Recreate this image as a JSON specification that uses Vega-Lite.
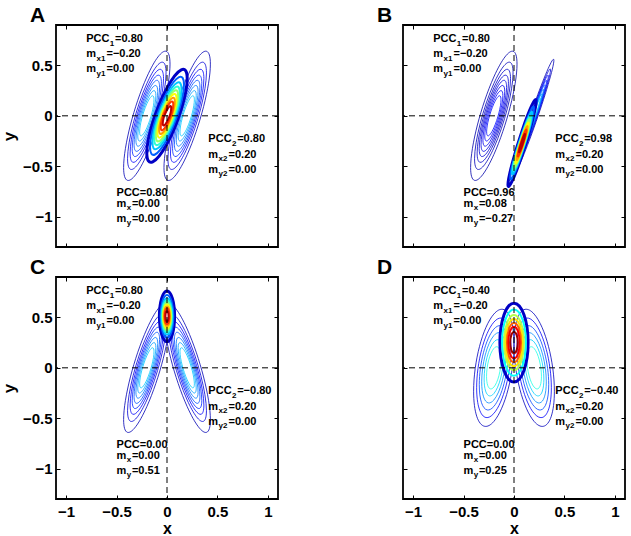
{
"$schema":"https://vega.github.io/schema/vega-lite/v6.json",
"padding":{"left":-1,"top":3,"right":0,"bottom":0},
"background":"white",
"datasets":{
"contours":[
{"p":"A","s":"S1","k":"c","mx":-0.2,"my":0,"r":1,"lv":0.04},
{"p":"A","s":"S1","k":"c","mx":-0.2,"my":0,"r":0.83,"lv":0.08},
{"p":"A","s":"S1","k":"c","mx":-0.2,"my":0,"r":0.72,"lv":0.12},
{"p":"A","s":"S1","k":"c","mx":-0.2,"my":0,"r":0.63,"lv":0.16},
{"p":"A","s":"S1","k":"c","mx":-0.2,"my":0,"r":0.55,"lv":0.2},
{"p":"A","s":"S1","k":"c","mx":-0.2,"my":0,"r":0.47,"lv":0.24},
{"p":"A","s":"S1","k":"c","mx":-0.2,"my":0,"r":0.39,"lv":0.28},
{"p":"A","s":"S1","k":"c","mx":-0.2,"my":0,"r":0.31,"lv":0.32},
{"p":"A","s":"S1","k":"c","mx":0.2,"my":0,"r":1,"lv":0.04},
{"p":"A","s":"S1","k":"c","mx":0.2,"my":0,"r":0.83,"lv":0.08},
{"p":"A","s":"S1","k":"c","mx":0.2,"my":0,"r":0.72,"lv":0.12},
{"p":"A","s":"S1","k":"c","mx":0.2,"my":0,"r":0.63,"lv":0.16},
{"p":"A","s":"S1","k":"c","mx":0.2,"my":0,"r":0.55,"lv":0.2},
{"p":"A","s":"S1","k":"c","mx":0.2,"my":0,"r":0.47,"lv":0.24},
{"p":"A","s":"S1","k":"c","mx":0.2,"my":0,"r":0.39,"lv":0.28},
{"p":"A","s":"S1","k":"c","mx":0.2,"my":0,"r":0.31,"lv":0.32},
{"p":"A","s":"S4","k":"o","mx":0,"my":0,"r":1,"lv":0.06},
{"p":"A","s":"S4","k":"i","mx":0,"my":0,"r":0.84,"lv":0.22},
{"p":"A","s":"S4","k":"i","mx":0,"my":0,"r":0.72,"lv":0.32},
{"p":"A","s":"S4","k":"i","mx":0,"my":0,"r":0.63,"lv":0.42},
{"p":"A","s":"S4","k":"i","mx":0,"my":0,"r":0.55,"lv":0.52},
{"p":"A","s":"S4","k":"i","mx":0,"my":0,"r":0.47,"lv":0.62},
{"p":"A","s":"S4","k":"i","mx":0,"my":0,"r":0.39,"lv":0.72},
{"p":"A","s":"S4","k":"i","mx":0,"my":0,"r":0.31,"lv":0.82},
{"p":"A","s":"S4","k":"i","mx":0,"my":0,"r":0.21,"lv":0.94},
{"p":"B","s":"S1","k":"c","mx":-0.2,"my":0,"r":1,"lv":0.03},
{"p":"B","s":"S1","k":"c","mx":-0.2,"my":0,"r":0.83,"lv":0.045},
{"p":"B","s":"S1","k":"c","mx":-0.2,"my":0,"r":0.72,"lv":0.06},
{"p":"B","s":"S1","k":"c","mx":-0.2,"my":0,"r":0.63,"lv":0.075},
{"p":"B","s":"S1","k":"c","mx":-0.2,"my":0,"r":0.55,"lv":0.09},
{"p":"B","s":"S1","k":"c","mx":-0.2,"my":0,"r":0.47,"lv":0.105},
{"p":"B","s":"S1","k":"c","mx":-0.2,"my":0,"r":0.39,"lv":0.12},
{"p":"B","s":"S1","k":"c","mx":-0.2,"my":0,"r":0.31,"lv":0.135},
{"p":"B","s":"S3","k":"c","mx":0.2,"my":0,"r":1,"lv":0.04},
{"p":"B","s":"S3","k":"c","mx":0.2,"my":0,"r":0.83,"lv":0.08},
{"p":"B","s":"S3","k":"c","mx":0.2,"my":0,"r":0.72,"lv":0.12},
{"p":"B","s":"S3","k":"c","mx":0.2,"my":0,"r":0.63,"lv":0.16},
{"p":"B","s":"S3","k":"c","mx":0.2,"my":0,"r":0.55,"lv":0.2},
{"p":"B","s":"S3","k":"c","mx":0.2,"my":0,"r":0.47,"lv":0.24},
{"p":"B","s":"S3","k":"c","mx":0.2,"my":0,"r":0.39,"lv":0.28},
{"p":"B","s":"S3","k":"c","mx":0.2,"my":0,"r":0.31,"lv":0.32},
{"p":"B","s":"S5","k":"o","mx":0.08,"my":-0.27,"r":1,"lv":0.06},
{"p":"B","s":"S5","k":"i","mx":0.08,"my":-0.27,"r":0.84,"lv":0.22},
{"p":"B","s":"S5","k":"i","mx":0.08,"my":-0.27,"r":0.72,"lv":0.32},
{"p":"B","s":"S5","k":"i","mx":0.08,"my":-0.27,"r":0.63,"lv":0.42},
{"p":"B","s":"S5","k":"i","mx":0.08,"my":-0.27,"r":0.55,"lv":0.52},
{"p":"B","s":"S5","k":"i","mx":0.08,"my":-0.27,"r":0.47,"lv":0.62},
{"p":"B","s":"S5","k":"i","mx":0.08,"my":-0.27,"r":0.39,"lv":0.72},
{"p":"B","s":"S5","k":"i","mx":0.08,"my":-0.27,"r":0.31,"lv":0.82},
{"p":"B","s":"S5","k":"i","mx":0.08,"my":-0.27,"r":0.21,"lv":0.94},
{"p":"C","s":"S1","k":"c","mx":-0.2,"my":0,"r":1,"lv":0.04},
{"p":"C","s":"S1","k":"c","mx":-0.2,"my":0,"r":0.83,"lv":0.08},
{"p":"C","s":"S1","k":"c","mx":-0.2,"my":0,"r":0.72,"lv":0.12},
{"p":"C","s":"S1","k":"c","mx":-0.2,"my":0,"r":0.63,"lv":0.16},
{"p":"C","s":"S1","k":"c","mx":-0.2,"my":0,"r":0.55,"lv":0.2},
{"p":"C","s":"S1","k":"c","mx":-0.2,"my":0,"r":0.47,"lv":0.24},
{"p":"C","s":"S1","k":"c","mx":-0.2,"my":0,"r":0.39,"lv":0.28},
{"p":"C","s":"S1","k":"c","mx":-0.2,"my":0,"r":0.31,"lv":0.32},
{"p":"C","s":"S2","k":"c","mx":0.2,"my":0,"r":1,"lv":0.04},
{"p":"C","s":"S2","k":"c","mx":0.2,"my":0,"r":0.83,"lv":0.08},
{"p":"C","s":"S2","k":"c","mx":0.2,"my":0,"r":0.72,"lv":0.12},
{"p":"C","s":"S2","k":"c","mx":0.2,"my":0,"r":0.63,"lv":0.16},
{"p":"C","s":"S2","k":"c","mx":0.2,"my":0,"r":0.55,"lv":0.2},
{"p":"C","s":"S2","k":"c","mx":0.2,"my":0,"r":0.47,"lv":0.24},
{"p":"C","s":"S2","k":"c","mx":0.2,"my":0,"r":0.39,"lv":0.28},
{"p":"C","s":"S2","k":"c","mx":0.2,"my":0,"r":0.31,"lv":0.32},
{"p":"C","s":"S6","k":"o","mx":0,"my":0.51,"r":1,"lv":0.06},
{"p":"C","s":"S6","k":"i","mx":0,"my":0.51,"r":0.84,"lv":0.22},
{"p":"C","s":"S6","k":"i","mx":0,"my":0.51,"r":0.72,"lv":0.32},
{"p":"C","s":"S6","k":"i","mx":0,"my":0.51,"r":0.63,"lv":0.42},
{"p":"C","s":"S6","k":"i","mx":0,"my":0.51,"r":0.55,"lv":0.52},
{"p":"C","s":"S6","k":"i","mx":0,"my":0.51,"r":0.47,"lv":0.62},
{"p":"C","s":"S6","k":"i","mx":0,"my":0.51,"r":0.39,"lv":0.72},
{"p":"C","s":"S6","k":"i","mx":0,"my":0.51,"r":0.31,"lv":0.82},
{"p":"C","s":"S6","k":"i","mx":0,"my":0.51,"r":0.21,"lv":0.94},
{"p":"D","s":"S7","k":"c","mx":-0.2,"my":0,"r":1,"lv":0.05},
{"p":"D","s":"S7","k":"c","mx":-0.2,"my":0,"r":0.85,"lv":0.12},
{"p":"D","s":"S7","k":"c","mx":-0.2,"my":0,"r":0.72,"lv":0.19},
{"p":"D","s":"S7","k":"c","mx":-0.2,"my":0,"r":0.6,"lv":0.26},
{"p":"D","s":"S7","k":"c","mx":-0.2,"my":0,"r":0.48,"lv":0.33},
{"p":"D","s":"S7","k":"c","mx":-0.2,"my":0,"r":0.36,"lv":0.4},
{"p":"D","s":"S8","k":"c","mx":0.2,"my":0,"r":1,"lv":0.05},
{"p":"D","s":"S8","k":"c","mx":0.2,"my":0,"r":0.85,"lv":0.12},
{"p":"D","s":"S8","k":"c","mx":0.2,"my":0,"r":0.72,"lv":0.19},
{"p":"D","s":"S8","k":"c","mx":0.2,"my":0,"r":0.6,"lv":0.26},
{"p":"D","s":"S8","k":"c","mx":0.2,"my":0,"r":0.48,"lv":0.33},
{"p":"D","s":"S8","k":"c","mx":0.2,"my":0,"r":0.36,"lv":0.4},
{"p":"D","s":"S9","k":"o","mx":0,"my":0.25,"r":1,"lv":0.06},
{"p":"D","s":"S9","k":"i","mx":0,"my":0.25,"r":0.84,"lv":0.38},
{"p":"D","s":"S9","k":"i","mx":0,"my":0.25,"r":0.7,"lv":0.55},
{"p":"D","s":"S9","k":"i","mx":0,"my":0.25,"r":0.6,"lv":0.65},
{"p":"D","s":"S9","k":"i","mx":0,"my":0.25,"r":0.5,"lv":0.78},
{"p":"D","s":"S9","k":"i","mx":0,"my":0.25,"r":0.4,"lv":0.88},
{"p":"D","s":"S9","k":"i","mx":0,"my":0.25,"r":0.27,"lv":0.97}
],
"labels":[
{"p":"A","x":-0.8,"y":0.76,"pre":"PCC","sub":"1","post":"=0.80"},
{"p":"A","x":-0.8,"y":0.61,"pre":"m","sub":"x1","post":"=−0.20"},
{"p":"A","x":-0.8,"y":0.46,"pre":"m","sub":"y1","post":"=0.00"},
{"p":"A","x":0.41,"y":-0.23,"pre":"PCC","sub":"2","post":"=0.80"},
{"p":"A","x":0.41,"y":-0.385,"pre":"m","sub":"x2","post":"=0.20"},
{"p":"A","x":0.41,"y":-0.535,"pre":"m","sub":"y2","post":"=0.00"},
{"p":"A","x":-0.5,"y":-0.76,"pre":"PCC=0.80","sub":"","post":""},
{"p":"A","x":-0.5,"y":-0.87,"pre":"m","sub":"x","post":"=0.00"},
{"p":"A","x":-0.5,"y":-1.02,"pre":"m","sub":"y","post":"=0.00"},
{"p":"B","x":-0.8,"y":0.76,"pre":"PCC","sub":"1","post":"=0.80"},
{"p":"B","x":-0.8,"y":0.61,"pre":"m","sub":"x1","post":"=−0.20"},
{"p":"B","x":-0.8,"y":0.46,"pre":"m","sub":"y1","post":"=0.00"},
{"p":"B","x":0.41,"y":-0.23,"pre":"PCC","sub":"2","post":"=0.98"},
{"p":"B","x":0.41,"y":-0.385,"pre":"m","sub":"x2","post":"=0.20"},
{"p":"B","x":0.41,"y":-0.535,"pre":"m","sub":"y2","post":"=0.00"},
{"p":"B","x":-0.5,"y":-0.76,"pre":"PCC=0.96","sub":"","post":""},
{"p":"B","x":-0.5,"y":-0.87,"pre":"m","sub":"x","post":"=0.08"},
{"p":"B","x":-0.5,"y":-1.02,"pre":"m","sub":"y","post":"=−0.27"},
{"p":"C","x":-0.8,"y":0.76,"pre":"PCC","sub":"1","post":"=0.80"},
{"p":"C","x":-0.8,"y":0.61,"pre":"m","sub":"x1","post":"=−0.20"},
{"p":"C","x":-0.8,"y":0.46,"pre":"m","sub":"y1","post":"=0.00"},
{"p":"C","x":0.41,"y":-0.23,"pre":"PCC","sub":"2","post":"=−0.80"},
{"p":"C","x":0.41,"y":-0.385,"pre":"m","sub":"x2","post":"=0.20"},
{"p":"C","x":0.41,"y":-0.535,"pre":"m","sub":"y2","post":"=0.00"},
{"p":"C","x":-0.5,"y":-0.76,"pre":"PCC=0.00","sub":"","post":""},
{"p":"C","x":-0.5,"y":-0.87,"pre":"m","sub":"x","post":"=0.00"},
{"p":"C","x":-0.5,"y":-1.02,"pre":"m","sub":"y","post":"=0.51"},
{"p":"D","x":-0.8,"y":0.76,"pre":"PCC","sub":"1","post":"=0.40"},
{"p":"D","x":-0.8,"y":0.61,"pre":"m","sub":"x1","post":"=−0.20"},
{"p":"D","x":-0.8,"y":0.46,"pre":"m","sub":"y1","post":"=0.00"},
{"p":"D","x":0.41,"y":-0.23,"pre":"PCC","sub":"2","post":"=−0.40"},
{"p":"D","x":0.41,"y":-0.385,"pre":"m","sub":"x2","post":"=0.20"},
{"p":"D","x":0.41,"y":-0.535,"pre":"m","sub":"y2","post":"=0.00"},
{"p":"D","x":-0.5,"y":-0.76,"pre":"PCC=0.00","sub":"","post":""},
{"p":"D","x":-0.5,"y":-0.87,"pre":"m","sub":"x","post":"=0.00"},
{"p":"D","x":-0.5,"y":-1.02,"pre":"m","sub":"y","post":"=0.25"}
],
"zero":[{"v":0}]
},
"columns":2,
"spacing":{"row":30,"column":125},
"bounds":"flush",
"concat":[
{"width":222,"height":222,"title":"A",
"layer":[
{"data":{"name":"contours"},"transform":[{"filter":"datum.p=='A' && datum.k=='c'"}],"mark":{"type":"point","filled":false,"opacity":1,"strokeWidth":0.8},
"encoding":{"x":{"field":"mx","type":"quantitative","scale":{"domain":[-1.1,1.1],"nice":false,"zero":false},"axis":null},"y":{"field":"my","type":"quantitative","scale":{"domain":[-1.3,0.9],"nice":false,"zero":false},"axis":null},
"shape":{"field":"s","type":"nominal","scale":{"domain":["S1","S2","S3","S4","S5","S6","S7","S8","S9"],"range":["M23.2,-51.7C23.2,-73.1,12.8,-67.4,0,-38.8C-12.8,-10.2,-23.2,30.3,-23.2,51.7C-23.2,73.1,-12.8,67.4,0,38.8C12.8,10.2,23.2,-30.3,23.2,-51.7Z","M-23.2,-51.7C-23.2,-73.1,-12.8,-67.4,0,-38.8C12.8,-10.2,23.2,30.3,23.2,51.7C23.2,73.1,12.8,67.4,0,38.8C-12.8,10.2,-23.2,-30.3,-23.2,-51.7Z","M19.7,-55.4C19.7,-61.6,10.9,-41.9,0,-11.3C-10.9,19.3,-19.7,49.2,-19.7,55.4C-19.7,61.6,-10.9,41.9,0,11.3C10.9,-19.3,19.7,-49.2,19.7,-55.4Z","M20.2,-37.2C20.2,-52.6,11.2,-48.4,0,-27.9C-11.2,-7.4,-20.2,21.8,-20.2,37.2C-20.2,52.6,-11.2,48.4,0,27.9C11.2,7.4,20.2,-21.8,20.2,-37.2Z","M14.1,-41.7C14.1,-48.4,7.8,-35.2,0,-12.2C-7.8,10.8,-14.1,35,-14.1,41.7C-14.1,48.4,-7.8,35.2,0,12.2C7.8,-10.8,14.1,-35,14.1,-41.7Z","M7.6,0C7.6,-13.9,4.2,-25.3,0,-25.3C-4.2,-25.3,-7.6,-13.9,-7.6,0C-7.6,13.9,-4.2,25.3,0,25.3C4.2,25.3,7.6,13.9,7.6,0Z","M20.2,-23.4C20.2,-53.1,11.2,-66.6,0,-53.7C-11.2,-40.8,-20.2,-6.3,-20.2,23.4C-20.2,53.1,-11.2,66.6,0,53.7C11.2,40.8,20.2,6.3,20.2,-23.4Z","M-20.2,-23.4C-20.2,-53.1,-11.2,-66.6,0,-53.7C11.2,-40.8,20.2,-6.3,20.2,23.4C20.2,53.1,11.2,66.6,0,53.7C-11.2,40.8,-20.2,6.3,-20.2,-23.4Z","M14.1,0C14.1,-21.8,7.8,-39.4,0,-39.4C-7.8,-39.4,-14.1,-21.8,-14.1,0C-14.1,21.8,-7.8,39.4,0,39.4C7.8,39.4,14.1,21.8,14.1,0Z"]},"legend":null},
"size":{"field":"r","type":"quantitative","scale":{"type":"pow","exponent":2,"domain":[0,1],"range":[0,4]},"legend":null},
"color":{"field":"lv","type":"quantitative","scale":{"domain":[0,0.125,0.375,0.625,0.875,1],"range":["#00008f","#0000ff","#00ffff","#ffff00","#ff0000","#800000"],"interpolate":"rgb"},"legend":null}}},
{"data":{"name":"contours"},"transform":[{"filter":"datum.p=='A' && datum.k=='o'"}],"mark":{"type":"point","filled":false,"opacity":1,"strokeWidth":3},
"encoding":{"x":{"field":"mx","type":"quantitative","scale":{"domain":[-1.1,1.1],"nice":false,"zero":false},"axis":null},"y":{"field":"my","type":"quantitative","scale":{"domain":[-1.3,0.9],"nice":false,"zero":false},"axis":null},
"shape":{"field":"s","type":"nominal","scale":{"domain":["S1","S2","S3","S4","S5","S6","S7","S8","S9"],"range":["M23.2,-51.7C23.2,-73.1,12.8,-67.4,0,-38.8C-12.8,-10.2,-23.2,30.3,-23.2,51.7C-23.2,73.1,-12.8,67.4,0,38.8C12.8,10.2,23.2,-30.3,23.2,-51.7Z","M-23.2,-51.7C-23.2,-73.1,-12.8,-67.4,0,-38.8C12.8,-10.2,23.2,30.3,23.2,51.7C23.2,73.1,12.8,67.4,0,38.8C-12.8,10.2,-23.2,-30.3,-23.2,-51.7Z","M19.7,-55.4C19.7,-61.6,10.9,-41.9,0,-11.3C-10.9,19.3,-19.7,49.2,-19.7,55.4C-19.7,61.6,-10.9,41.9,0,11.3C10.9,-19.3,19.7,-49.2,19.7,-55.4Z","M20.2,-37.2C20.2,-52.6,11.2,-48.4,0,-27.9C-11.2,-7.4,-20.2,21.8,-20.2,37.2C-20.2,52.6,-11.2,48.4,0,27.9C11.2,7.4,20.2,-21.8,20.2,-37.2Z","M14.1,-41.7C14.1,-48.4,7.8,-35.2,0,-12.2C-7.8,10.8,-14.1,35,-14.1,41.7C-14.1,48.4,-7.8,35.2,0,12.2C7.8,-10.8,14.1,-35,14.1,-41.7Z","M7.6,0C7.6,-13.9,4.2,-25.3,0,-25.3C-4.2,-25.3,-7.6,-13.9,-7.6,0C-7.6,13.9,-4.2,25.3,0,25.3C4.2,25.3,7.6,13.9,7.6,0Z","M20.2,-23.4C20.2,-53.1,11.2,-66.6,0,-53.7C-11.2,-40.8,-20.2,-6.3,-20.2,23.4C-20.2,53.1,-11.2,66.6,0,53.7C11.2,40.8,20.2,6.3,20.2,-23.4Z","M-20.2,-23.4C-20.2,-53.1,-11.2,-66.6,0,-53.7C11.2,-40.8,20.2,-6.3,20.2,23.4C20.2,53.1,11.2,66.6,0,53.7C-11.2,40.8,-20.2,6.3,-20.2,-23.4Z","M14.1,0C14.1,-21.8,7.8,-39.4,0,-39.4C-7.8,-39.4,-14.1,-21.8,-14.1,0C-14.1,21.8,-7.8,39.4,0,39.4C7.8,39.4,14.1,21.8,14.1,0Z"]},"legend":null},
"size":{"field":"r","type":"quantitative","scale":{"type":"pow","exponent":2,"domain":[0,1],"range":[0,4]},"legend":null},
"color":{"field":"lv","type":"quantitative","scale":{"domain":[0,0.125,0.375,0.625,0.875,1],"range":["#00008f","#0000ff","#00ffff","#ffff00","#ff0000","#800000"],"interpolate":"rgb"},"legend":null}}},
{"data":{"name":"contours"},"transform":[{"filter":"datum.p=='A' && datum.k=='i'"}],"mark":{"type":"point","filled":false,"opacity":1,"strokeWidth":2},
"encoding":{"x":{"field":"mx","type":"quantitative","scale":{"domain":[-1.1,1.1],"nice":false,"zero":false},"axis":null},"y":{"field":"my","type":"quantitative","scale":{"domain":[-1.3,0.9],"nice":false,"zero":false},"axis":null},
"shape":{"field":"s","type":"nominal","scale":{"domain":["S1","S2","S3","S4","S5","S6","S7","S8","S9"],"range":["M23.2,-51.7C23.2,-73.1,12.8,-67.4,0,-38.8C-12.8,-10.2,-23.2,30.3,-23.2,51.7C-23.2,73.1,-12.8,67.4,0,38.8C12.8,10.2,23.2,-30.3,23.2,-51.7Z","M-23.2,-51.7C-23.2,-73.1,-12.8,-67.4,0,-38.8C12.8,-10.2,23.2,30.3,23.2,51.7C23.2,73.1,12.8,67.4,0,38.8C-12.8,10.2,-23.2,-30.3,-23.2,-51.7Z","M19.7,-55.4C19.7,-61.6,10.9,-41.9,0,-11.3C-10.9,19.3,-19.7,49.2,-19.7,55.4C-19.7,61.6,-10.9,41.9,0,11.3C10.9,-19.3,19.7,-49.2,19.7,-55.4Z","M20.2,-37.2C20.2,-52.6,11.2,-48.4,0,-27.9C-11.2,-7.4,-20.2,21.8,-20.2,37.2C-20.2,52.6,-11.2,48.4,0,27.9C11.2,7.4,20.2,-21.8,20.2,-37.2Z","M14.1,-41.7C14.1,-48.4,7.8,-35.2,0,-12.2C-7.8,10.8,-14.1,35,-14.1,41.7C-14.1,48.4,-7.8,35.2,0,12.2C7.8,-10.8,14.1,-35,14.1,-41.7Z","M7.6,0C7.6,-13.9,4.2,-25.3,0,-25.3C-4.2,-25.3,-7.6,-13.9,-7.6,0C-7.6,13.9,-4.2,25.3,0,25.3C4.2,25.3,7.6,13.9,7.6,0Z","M20.2,-23.4C20.2,-53.1,11.2,-66.6,0,-53.7C-11.2,-40.8,-20.2,-6.3,-20.2,23.4C-20.2,53.1,-11.2,66.6,0,53.7C11.2,40.8,20.2,6.3,20.2,-23.4Z","M-20.2,-23.4C-20.2,-53.1,-11.2,-66.6,0,-53.7C11.2,-40.8,20.2,-6.3,20.2,23.4C20.2,53.1,11.2,66.6,0,53.7C-11.2,40.8,-20.2,6.3,-20.2,-23.4Z","M14.1,0C14.1,-21.8,7.8,-39.4,0,-39.4C-7.8,-39.4,-14.1,-21.8,-14.1,0C-14.1,21.8,-7.8,39.4,0,39.4C7.8,39.4,14.1,21.8,14.1,0Z"]},"legend":null},
"size":{"field":"r","type":"quantitative","scale":{"type":"pow","exponent":2,"domain":[0,1],"range":[0,4]},"legend":null},
"color":{"field":"lv","type":"quantitative","scale":{"domain":[0,0.125,0.375,0.625,0.875,1],"range":["#00008f","#0000ff","#00ffff","#ffff00","#ff0000","#800000"],"interpolate":"rgb"},"legend":null}}},
{"data":{"name":"zero"},"mark":{"type":"rule","color":"black","strokeWidth":1,"strokeDash":[6,4]},"encoding":{"x":{"field":"v","type":"quantitative","scale":{"domain":[-1.1,1.1],"nice":false,"zero":false},"axis":{"orient":"bottom","values":[-1,-0.5,0,0.5,1],"labels":false,"title":null}}}},
{"data":{"name":"zero"},"mark":{"type":"rule","color":"black","strokeWidth":1,"strokeDash":[6,4]},"encoding":{"y":{"field":"v","type":"quantitative","scale":{"domain":[-1.3,0.9],"nice":false,"zero":false},"axis":{"orient":"left","values":[-1,-0.5,0,0.5],"format":"~g","title":"y","labelPadding":8,"titlePadding":4}}}},
{"data":{"name":"labels"},"transform":[{"filter":"datum.p=='A'"}],"mark":{"type":"text","align":"left","baseline":"middle","fontSize":11,"fontWeight":"bold","font":"Liberation Sans","color":"black"},"encoding":{"x":{"field":"x","type":"quantitative","scale":{"domain":[-1.1,1.1],"nice":false,"zero":false},"axis":{"orient":"top","values":[-1,-0.5,0,0.5,1],"labels":false,"title":null}},"y":{"field":"y","type":"quantitative","scale":{"domain":[-1.3,0.9],"nice":false,"zero":false},"axis":{"orient":"right","values":[-1,-0.5,0,0.5],"labels":false,"title":null}},"text":{"field":"pre","type":"nominal"}}},
{"data":{"name":"labels"},"transform":[{"filter":"datum.p=='A' && datum.pre=='PCC'"}],"mark":{"type":"text","align":"left","baseline":"middle","fontSize":8,"fontWeight":"bold","font":"Liberation Sans","color":"black","dx":23.6,"dy":4.5},"encoding":{"x":{"field":"x","type":"quantitative","scale":{"domain":[-1.1,1.1],"nice":false,"zero":false},"axis":null},"y":{"field":"y","type":"quantitative","scale":{"domain":[-1.3,0.9],"nice":false,"zero":false},"axis":null},"text":{"field":"sub","type":"nominal"}}},
{"data":{"name":"labels"},"transform":[{"filter":"datum.p=='A' && datum.pre=='PCC'"}],"mark":{"type":"text","align":"left","baseline":"middle","fontSize":11,"fontWeight":"bold","font":"Liberation Sans","color":"black","dx":28.8},"encoding":{"x":{"field":"x","type":"quantitative","scale":{"domain":[-1.1,1.1],"nice":false,"zero":false},"axis":null},"y":{"field":"y","type":"quantitative","scale":{"domain":[-1.3,0.9],"nice":false,"zero":false},"axis":null},"text":{"field":"post","type":"nominal"}}},
{"data":{"name":"labels"},"transform":[{"filter":"datum.p=='A' && datum.pre=='m'"}],"mark":{"type":"text","align":"left","baseline":"middle","fontSize":8,"fontWeight":"bold","font":"Liberation Sans","color":"black","dx":10.2,"dy":4.5},"encoding":{"x":{"field":"x","type":"quantitative","scale":{"domain":[-1.1,1.1],"nice":false,"zero":false},"axis":null},"y":{"field":"y","type":"quantitative","scale":{"domain":[-1.3,0.9],"nice":false,"zero":false},"axis":null},"text":{"field":"sub","type":"nominal"}}},
{"data":{"name":"labels"},"transform":[{"filter":"datum.p=='A' && datum.pre=='m' && length(datum.sub)==2"}],"mark":{"type":"text","align":"left","baseline":"middle","fontSize":11,"fontWeight":"bold","font":"Liberation Sans","color":"black","dx":20.2},"encoding":{"x":{"field":"x","type":"quantitative","scale":{"domain":[-1.1,1.1],"nice":false,"zero":false},"axis":null},"y":{"field":"y","type":"quantitative","scale":{"domain":[-1.3,0.9],"nice":false,"zero":false},"axis":null},"text":{"field":"post","type":"nominal"}}},
{"data":{"name":"labels"},"transform":[{"filter":"datum.p=='A' && datum.pre=='m' && length(datum.sub)==1"}],"mark":{"type":"text","align":"left","baseline":"middle","fontSize":11,"fontWeight":"bold","font":"Liberation Sans","color":"black","dx":15.4},"encoding":{"x":{"field":"x","type":"quantitative","scale":{"domain":[-1.1,1.1],"nice":false,"zero":false},"axis":null},"y":{"field":"y","type":"quantitative","scale":{"domain":[-1.3,0.9],"nice":false,"zero":false},"axis":null},"text":{"field":"post","type":"nominal"}}}
],
"resolve":{"axis":{"x":"independent","y":"independent"}}},
{"width":222,"height":222,"title":"B",
"layer":[
{"data":{"name":"contours"},"transform":[{"filter":"datum.p=='B' && datum.k=='c'"}],"mark":{"type":"point","filled":false,"opacity":1,"strokeWidth":0.8},
"encoding":{"x":{"field":"mx","type":"quantitative","scale":{"domain":[-1.1,1.1],"nice":false,"zero":false},"axis":null},"y":{"field":"my","type":"quantitative","scale":{"domain":[-1.3,0.9],"nice":false,"zero":false},"axis":null},
"shape":{"field":"s","type":"nominal","scale":{"domain":["S1","S2","S3","S4","S5","S6","S7","S8","S9"],"range":["M23.2,-51.7C23.2,-73.1,12.8,-67.4,0,-38.8C-12.8,-10.2,-23.2,30.3,-23.2,51.7C-23.2,73.1,-12.8,67.4,0,38.8C12.8,10.2,23.2,-30.3,23.2,-51.7Z","M-23.2,-51.7C-23.2,-73.1,-12.8,-67.4,0,-38.8C12.8,-10.2,23.2,30.3,23.2,51.7C23.2,73.1,12.8,67.4,0,38.8C-12.8,10.2,-23.2,-30.3,-23.2,-51.7Z","M19.7,-55.4C19.7,-61.6,10.9,-41.9,0,-11.3C-10.9,19.3,-19.7,49.2,-19.7,55.4C-19.7,61.6,-10.9,41.9,0,11.3C10.9,-19.3,19.7,-49.2,19.7,-55.4Z","M20.2,-37.2C20.2,-52.6,11.2,-48.4,0,-27.9C-11.2,-7.4,-20.2,21.8,-20.2,37.2C-20.2,52.6,-11.2,48.4,0,27.9C11.2,7.4,20.2,-21.8,20.2,-37.2Z","M14.1,-41.7C14.1,-48.4,7.8,-35.2,0,-12.2C-7.8,10.8,-14.1,35,-14.1,41.7C-14.1,48.4,-7.8,35.2,0,12.2C7.8,-10.8,14.1,-35,14.1,-41.7Z","M7.6,0C7.6,-13.9,4.2,-25.3,0,-25.3C-4.2,-25.3,-7.6,-13.9,-7.6,0C-7.6,13.9,-4.2,25.3,0,25.3C4.2,25.3,7.6,13.9,7.6,0Z","M20.2,-23.4C20.2,-53.1,11.2,-66.6,0,-53.7C-11.2,-40.8,-20.2,-6.3,-20.2,23.4C-20.2,53.1,-11.2,66.6,0,53.7C11.2,40.8,20.2,6.3,20.2,-23.4Z","M-20.2,-23.4C-20.2,-53.1,-11.2,-66.6,0,-53.7C11.2,-40.8,20.2,-6.3,20.2,23.4C20.2,53.1,11.2,66.6,0,53.7C-11.2,40.8,-20.2,6.3,-20.2,-23.4Z","M14.1,0C14.1,-21.8,7.8,-39.4,0,-39.4C-7.8,-39.4,-14.1,-21.8,-14.1,0C-14.1,21.8,-7.8,39.4,0,39.4C7.8,39.4,14.1,21.8,14.1,0Z"]},"legend":null},
"size":{"field":"r","type":"quantitative","scale":{"type":"pow","exponent":2,"domain":[0,1],"range":[0,4]},"legend":null},
"color":{"field":"lv","type":"quantitative","scale":{"domain":[0,0.125,0.375,0.625,0.875,1],"range":["#00008f","#0000ff","#00ffff","#ffff00","#ff0000","#800000"],"interpolate":"rgb"},"legend":null}}},
{"data":{"name":"contours"},"transform":[{"filter":"datum.p=='B' && datum.k=='o'"}],"mark":{"type":"point","filled":false,"opacity":1,"strokeWidth":3},
"encoding":{"x":{"field":"mx","type":"quantitative","scale":{"domain":[-1.1,1.1],"nice":false,"zero":false},"axis":null},"y":{"field":"my","type":"quantitative","scale":{"domain":[-1.3,0.9],"nice":false,"zero":false},"axis":null},
"shape":{"field":"s","type":"nominal","scale":{"domain":["S1","S2","S3","S4","S5","S6","S7","S8","S9"],"range":["M23.2,-51.7C23.2,-73.1,12.8,-67.4,0,-38.8C-12.8,-10.2,-23.2,30.3,-23.2,51.7C-23.2,73.1,-12.8,67.4,0,38.8C12.8,10.2,23.2,-30.3,23.2,-51.7Z","M-23.2,-51.7C-23.2,-73.1,-12.8,-67.4,0,-38.8C12.8,-10.2,23.2,30.3,23.2,51.7C23.2,73.1,12.8,67.4,0,38.8C-12.8,10.2,-23.2,-30.3,-23.2,-51.7Z","M19.7,-55.4C19.7,-61.6,10.9,-41.9,0,-11.3C-10.9,19.3,-19.7,49.2,-19.7,55.4C-19.7,61.6,-10.9,41.9,0,11.3C10.9,-19.3,19.7,-49.2,19.7,-55.4Z","M20.2,-37.2C20.2,-52.6,11.2,-48.4,0,-27.9C-11.2,-7.4,-20.2,21.8,-20.2,37.2C-20.2,52.6,-11.2,48.4,0,27.9C11.2,7.4,20.2,-21.8,20.2,-37.2Z","M14.1,-41.7C14.1,-48.4,7.8,-35.2,0,-12.2C-7.8,10.8,-14.1,35,-14.1,41.7C-14.1,48.4,-7.8,35.2,0,12.2C7.8,-10.8,14.1,-35,14.1,-41.7Z","M7.6,0C7.6,-13.9,4.2,-25.3,0,-25.3C-4.2,-25.3,-7.6,-13.9,-7.6,0C-7.6,13.9,-4.2,25.3,0,25.3C4.2,25.3,7.6,13.9,7.6,0Z","M20.2,-23.4C20.2,-53.1,11.2,-66.6,0,-53.7C-11.2,-40.8,-20.2,-6.3,-20.2,23.4C-20.2,53.1,-11.2,66.6,0,53.7C11.2,40.8,20.2,6.3,20.2,-23.4Z","M-20.2,-23.4C-20.2,-53.1,-11.2,-66.6,0,-53.7C11.2,-40.8,20.2,-6.3,20.2,23.4C20.2,53.1,11.2,66.6,0,53.7C-11.2,40.8,-20.2,6.3,-20.2,-23.4Z","M14.1,0C14.1,-21.8,7.8,-39.4,0,-39.4C-7.8,-39.4,-14.1,-21.8,-14.1,0C-14.1,21.8,-7.8,39.4,0,39.4C7.8,39.4,14.1,21.8,14.1,0Z"]},"legend":null},
"size":{"field":"r","type":"quantitative","scale":{"type":"pow","exponent":2,"domain":[0,1],"range":[0,4]},"legend":null},
"color":{"field":"lv","type":"quantitative","scale":{"domain":[0,0.125,0.375,0.625,0.875,1],"range":["#00008f","#0000ff","#00ffff","#ffff00","#ff0000","#800000"],"interpolate":"rgb"},"legend":null}}},
{"data":{"name":"contours"},"transform":[{"filter":"datum.p=='B' && datum.k=='i'"}],"mark":{"type":"point","filled":false,"opacity":1,"strokeWidth":2},
"encoding":{"x":{"field":"mx","type":"quantitative","scale":{"domain":[-1.1,1.1],"nice":false,"zero":false},"axis":null},"y":{"field":"my","type":"quantitative","scale":{"domain":[-1.3,0.9],"nice":false,"zero":false},"axis":null},
"shape":{"field":"s","type":"nominal","scale":{"domain":["S1","S2","S3","S4","S5","S6","S7","S8","S9"],"range":["M23.2,-51.7C23.2,-73.1,12.8,-67.4,0,-38.8C-12.8,-10.2,-23.2,30.3,-23.2,51.7C-23.2,73.1,-12.8,67.4,0,38.8C12.8,10.2,23.2,-30.3,23.2,-51.7Z","M-23.2,-51.7C-23.2,-73.1,-12.8,-67.4,0,-38.8C12.8,-10.2,23.2,30.3,23.2,51.7C23.2,73.1,12.8,67.4,0,38.8C-12.8,10.2,-23.2,-30.3,-23.2,-51.7Z","M19.7,-55.4C19.7,-61.6,10.9,-41.9,0,-11.3C-10.9,19.3,-19.7,49.2,-19.7,55.4C-19.7,61.6,-10.9,41.9,0,11.3C10.9,-19.3,19.7,-49.2,19.7,-55.4Z","M20.2,-37.2C20.2,-52.6,11.2,-48.4,0,-27.9C-11.2,-7.4,-20.2,21.8,-20.2,37.2C-20.2,52.6,-11.2,48.4,0,27.9C11.2,7.4,20.2,-21.8,20.2,-37.2Z","M14.1,-41.7C14.1,-48.4,7.8,-35.2,0,-12.2C-7.8,10.8,-14.1,35,-14.1,41.7C-14.1,48.4,-7.8,35.2,0,12.2C7.8,-10.8,14.1,-35,14.1,-41.7Z","M7.6,0C7.6,-13.9,4.2,-25.3,0,-25.3C-4.2,-25.3,-7.6,-13.9,-7.6,0C-7.6,13.9,-4.2,25.3,0,25.3C4.2,25.3,7.6,13.9,7.6,0Z","M20.2,-23.4C20.2,-53.1,11.2,-66.6,0,-53.7C-11.2,-40.8,-20.2,-6.3,-20.2,23.4C-20.2,53.1,-11.2,66.6,0,53.7C11.2,40.8,20.2,6.3,20.2,-23.4Z","M-20.2,-23.4C-20.2,-53.1,-11.2,-66.6,0,-53.7C11.2,-40.8,20.2,-6.3,20.2,23.4C20.2,53.1,11.2,66.6,0,53.7C-11.2,40.8,-20.2,6.3,-20.2,-23.4Z","M14.1,0C14.1,-21.8,7.8,-39.4,0,-39.4C-7.8,-39.4,-14.1,-21.8,-14.1,0C-14.1,21.8,-7.8,39.4,0,39.4C7.8,39.4,14.1,21.8,14.1,0Z"]},"legend":null},
"size":{"field":"r","type":"quantitative","scale":{"type":"pow","exponent":2,"domain":[0,1],"range":[0,4]},"legend":null},
"color":{"field":"lv","type":"quantitative","scale":{"domain":[0,0.125,0.375,0.625,0.875,1],"range":["#00008f","#0000ff","#00ffff","#ffff00","#ff0000","#800000"],"interpolate":"rgb"},"legend":null}}},
{"data":{"name":"zero"},"mark":{"type":"rule","color":"black","strokeWidth":1,"strokeDash":[6,4]},"encoding":{"x":{"field":"v","type":"quantitative","scale":{"domain":[-1.1,1.1],"nice":false,"zero":false},"axis":{"orient":"bottom","values":[-1,-0.5,0,0.5,1],"labels":false,"title":null}}}},
{"data":{"name":"zero"},"mark":{"type":"rule","color":"black","strokeWidth":1,"strokeDash":[6,4]},"encoding":{"y":{"field":"v","type":"quantitative","scale":{"domain":[-1.3,0.9],"nice":false,"zero":false},"axis":{"orient":"left","values":[-1,-0.5,0,0.5],"labels":false,"title":null}}}},
{"data":{"name":"labels"},"transform":[{"filter":"datum.p=='B'"}],"mark":{"type":"text","align":"left","baseline":"middle","fontSize":11,"fontWeight":"bold","font":"Liberation Sans","color":"black"},"encoding":{"x":{"field":"x","type":"quantitative","scale":{"domain":[-1.1,1.1],"nice":false,"zero":false},"axis":{"orient":"top","values":[-1,-0.5,0,0.5,1],"labels":false,"title":null}},"y":{"field":"y","type":"quantitative","scale":{"domain":[-1.3,0.9],"nice":false,"zero":false},"axis":{"orient":"right","values":[-1,-0.5,0,0.5],"labels":false,"title":null}},"text":{"field":"pre","type":"nominal"}}},
{"data":{"name":"labels"},"transform":[{"filter":"datum.p=='B' && datum.pre=='PCC'"}],"mark":{"type":"text","align":"left","baseline":"middle","fontSize":8,"fontWeight":"bold","font":"Liberation Sans","color":"black","dx":23.6,"dy":4.5},"encoding":{"x":{"field":"x","type":"quantitative","scale":{"domain":[-1.1,1.1],"nice":false,"zero":false},"axis":null},"y":{"field":"y","type":"quantitative","scale":{"domain":[-1.3,0.9],"nice":false,"zero":false},"axis":null},"text":{"field":"sub","type":"nominal"}}},
{"data":{"name":"labels"},"transform":[{"filter":"datum.p=='B' && datum.pre=='PCC'"}],"mark":{"type":"text","align":"left","baseline":"middle","fontSize":11,"fontWeight":"bold","font":"Liberation Sans","color":"black","dx":28.8},"encoding":{"x":{"field":"x","type":"quantitative","scale":{"domain":[-1.1,1.1],"nice":false,"zero":false},"axis":null},"y":{"field":"y","type":"quantitative","scale":{"domain":[-1.3,0.9],"nice":false,"zero":false},"axis":null},"text":{"field":"post","type":"nominal"}}},
{"data":{"name":"labels"},"transform":[{"filter":"datum.p=='B' && datum.pre=='m'"}],"mark":{"type":"text","align":"left","baseline":"middle","fontSize":8,"fontWeight":"bold","font":"Liberation Sans","color":"black","dx":10.2,"dy":4.5},"encoding":{"x":{"field":"x","type":"quantitative","scale":{"domain":[-1.1,1.1],"nice":false,"zero":false},"axis":null},"y":{"field":"y","type":"quantitative","scale":{"domain":[-1.3,0.9],"nice":false,"zero":false},"axis":null},"text":{"field":"sub","type":"nominal"}}},
{"data":{"name":"labels"},"transform":[{"filter":"datum.p=='B' && datum.pre=='m' && length(datum.sub)==2"}],"mark":{"type":"text","align":"left","baseline":"middle","fontSize":11,"fontWeight":"bold","font":"Liberation Sans","color":"black","dx":20.2},"encoding":{"x":{"field":"x","type":"quantitative","scale":{"domain":[-1.1,1.1],"nice":false,"zero":false},"axis":null},"y":{"field":"y","type":"quantitative","scale":{"domain":[-1.3,0.9],"nice":false,"zero":false},"axis":null},"text":{"field":"post","type":"nominal"}}},
{"data":{"name":"labels"},"transform":[{"filter":"datum.p=='B' && datum.pre=='m' && length(datum.sub)==1"}],"mark":{"type":"text","align":"left","baseline":"middle","fontSize":11,"fontWeight":"bold","font":"Liberation Sans","color":"black","dx":15.4},"encoding":{"x":{"field":"x","type":"quantitative","scale":{"domain":[-1.1,1.1],"nice":false,"zero":false},"axis":null},"y":{"field":"y","type":"quantitative","scale":{"domain":[-1.3,0.9],"nice":false,"zero":false},"axis":null},"text":{"field":"post","type":"nominal"}}}
],
"resolve":{"axis":{"x":"independent","y":"independent"}}},
{"width":222,"height":222,"title":"C",
"layer":[
{"data":{"name":"contours"},"transform":[{"filter":"datum.p=='C' && datum.k=='c'"}],"mark":{"type":"point","filled":false,"opacity":1,"strokeWidth":0.8},
"encoding":{"x":{"field":"mx","type":"quantitative","scale":{"domain":[-1.1,1.1],"nice":false,"zero":false},"axis":null},"y":{"field":"my","type":"quantitative","scale":{"domain":[-1.3,0.9],"nice":false,"zero":false},"axis":null},
"shape":{"field":"s","type":"nominal","scale":{"domain":["S1","S2","S3","S4","S5","S6","S7","S8","S9"],"range":["M23.2,-51.7C23.2,-73.1,12.8,-67.4,0,-38.8C-12.8,-10.2,-23.2,30.3,-23.2,51.7C-23.2,73.1,-12.8,67.4,0,38.8C12.8,10.2,23.2,-30.3,23.2,-51.7Z","M-23.2,-51.7C-23.2,-73.1,-12.8,-67.4,0,-38.8C12.8,-10.2,23.2,30.3,23.2,51.7C23.2,73.1,12.8,67.4,0,38.8C-12.8,10.2,-23.2,-30.3,-23.2,-51.7Z","M19.7,-55.4C19.7,-61.6,10.9,-41.9,0,-11.3C-10.9,19.3,-19.7,49.2,-19.7,55.4C-19.7,61.6,-10.9,41.9,0,11.3C10.9,-19.3,19.7,-49.2,19.7,-55.4Z","M20.2,-37.2C20.2,-52.6,11.2,-48.4,0,-27.9C-11.2,-7.4,-20.2,21.8,-20.2,37.2C-20.2,52.6,-11.2,48.4,0,27.9C11.2,7.4,20.2,-21.8,20.2,-37.2Z","M14.1,-41.7C14.1,-48.4,7.8,-35.2,0,-12.2C-7.8,10.8,-14.1,35,-14.1,41.7C-14.1,48.4,-7.8,35.2,0,12.2C7.8,-10.8,14.1,-35,14.1,-41.7Z","M7.6,0C7.6,-13.9,4.2,-25.3,0,-25.3C-4.2,-25.3,-7.6,-13.9,-7.6,0C-7.6,13.9,-4.2,25.3,0,25.3C4.2,25.3,7.6,13.9,7.6,0Z","M20.2,-23.4C20.2,-53.1,11.2,-66.6,0,-53.7C-11.2,-40.8,-20.2,-6.3,-20.2,23.4C-20.2,53.1,-11.2,66.6,0,53.7C11.2,40.8,20.2,6.3,20.2,-23.4Z","M-20.2,-23.4C-20.2,-53.1,-11.2,-66.6,0,-53.7C11.2,-40.8,20.2,-6.3,20.2,23.4C20.2,53.1,11.2,66.6,0,53.7C-11.2,40.8,-20.2,6.3,-20.2,-23.4Z","M14.1,0C14.1,-21.8,7.8,-39.4,0,-39.4C-7.8,-39.4,-14.1,-21.8,-14.1,0C-14.1,21.8,-7.8,39.4,0,39.4C7.8,39.4,14.1,21.8,14.1,0Z"]},"legend":null},
"size":{"field":"r","type":"quantitative","scale":{"type":"pow","exponent":2,"domain":[0,1],"range":[0,4]},"legend":null},
"color":{"field":"lv","type":"quantitative","scale":{"domain":[0,0.125,0.375,0.625,0.875,1],"range":["#00008f","#0000ff","#00ffff","#ffff00","#ff0000","#800000"],"interpolate":"rgb"},"legend":null}}},
{"data":{"name":"contours"},"transform":[{"filter":"datum.p=='C' && datum.k=='o'"}],"mark":{"type":"point","filled":false,"opacity":1,"strokeWidth":3},
"encoding":{"x":{"field":"mx","type":"quantitative","scale":{"domain":[-1.1,1.1],"nice":false,"zero":false},"axis":null},"y":{"field":"my","type":"quantitative","scale":{"domain":[-1.3,0.9],"nice":false,"zero":false},"axis":null},
"shape":{"field":"s","type":"nominal","scale":{"domain":["S1","S2","S3","S4","S5","S6","S7","S8","S9"],"range":["M23.2,-51.7C23.2,-73.1,12.8,-67.4,0,-38.8C-12.8,-10.2,-23.2,30.3,-23.2,51.7C-23.2,73.1,-12.8,67.4,0,38.8C12.8,10.2,23.2,-30.3,23.2,-51.7Z","M-23.2,-51.7C-23.2,-73.1,-12.8,-67.4,0,-38.8C12.8,-10.2,23.2,30.3,23.2,51.7C23.2,73.1,12.8,67.4,0,38.8C-12.8,10.2,-23.2,-30.3,-23.2,-51.7Z","M19.7,-55.4C19.7,-61.6,10.9,-41.9,0,-11.3C-10.9,19.3,-19.7,49.2,-19.7,55.4C-19.7,61.6,-10.9,41.9,0,11.3C10.9,-19.3,19.7,-49.2,19.7,-55.4Z","M20.2,-37.2C20.2,-52.6,11.2,-48.4,0,-27.9C-11.2,-7.4,-20.2,21.8,-20.2,37.2C-20.2,52.6,-11.2,48.4,0,27.9C11.2,7.4,20.2,-21.8,20.2,-37.2Z","M14.1,-41.7C14.1,-48.4,7.8,-35.2,0,-12.2C-7.8,10.8,-14.1,35,-14.1,41.7C-14.1,48.4,-7.8,35.2,0,12.2C7.8,-10.8,14.1,-35,14.1,-41.7Z","M7.6,0C7.6,-13.9,4.2,-25.3,0,-25.3C-4.2,-25.3,-7.6,-13.9,-7.6,0C-7.6,13.9,-4.2,25.3,0,25.3C4.2,25.3,7.6,13.9,7.6,0Z","M20.2,-23.4C20.2,-53.1,11.2,-66.6,0,-53.7C-11.2,-40.8,-20.2,-6.3,-20.2,23.4C-20.2,53.1,-11.2,66.6,0,53.7C11.2,40.8,20.2,6.3,20.2,-23.4Z","M-20.2,-23.4C-20.2,-53.1,-11.2,-66.6,0,-53.7C11.2,-40.8,20.2,-6.3,20.2,23.4C20.2,53.1,11.2,66.6,0,53.7C-11.2,40.8,-20.2,6.3,-20.2,-23.4Z","M14.1,0C14.1,-21.8,7.8,-39.4,0,-39.4C-7.8,-39.4,-14.1,-21.8,-14.1,0C-14.1,21.8,-7.8,39.4,0,39.4C7.8,39.4,14.1,21.8,14.1,0Z"]},"legend":null},
"size":{"field":"r","type":"quantitative","scale":{"type":"pow","exponent":2,"domain":[0,1],"range":[0,4]},"legend":null},
"color":{"field":"lv","type":"quantitative","scale":{"domain":[0,0.125,0.375,0.625,0.875,1],"range":["#00008f","#0000ff","#00ffff","#ffff00","#ff0000","#800000"],"interpolate":"rgb"},"legend":null}}},
{"data":{"name":"contours"},"transform":[{"filter":"datum.p=='C' && datum.k=='i'"}],"mark":{"type":"point","filled":false,"opacity":1,"strokeWidth":2},
"encoding":{"x":{"field":"mx","type":"quantitative","scale":{"domain":[-1.1,1.1],"nice":false,"zero":false},"axis":null},"y":{"field":"my","type":"quantitative","scale":{"domain":[-1.3,0.9],"nice":false,"zero":false},"axis":null},
"shape":{"field":"s","type":"nominal","scale":{"domain":["S1","S2","S3","S4","S5","S6","S7","S8","S9"],"range":["M23.2,-51.7C23.2,-73.1,12.8,-67.4,0,-38.8C-12.8,-10.2,-23.2,30.3,-23.2,51.7C-23.2,73.1,-12.8,67.4,0,38.8C12.8,10.2,23.2,-30.3,23.2,-51.7Z","M-23.2,-51.7C-23.2,-73.1,-12.8,-67.4,0,-38.8C12.8,-10.2,23.2,30.3,23.2,51.7C23.2,73.1,12.8,67.4,0,38.8C-12.8,10.2,-23.2,-30.3,-23.2,-51.7Z","M19.7,-55.4C19.7,-61.6,10.9,-41.9,0,-11.3C-10.9,19.3,-19.7,49.2,-19.7,55.4C-19.7,61.6,-10.9,41.9,0,11.3C10.9,-19.3,19.7,-49.2,19.7,-55.4Z","M20.2,-37.2C20.2,-52.6,11.2,-48.4,0,-27.9C-11.2,-7.4,-20.2,21.8,-20.2,37.2C-20.2,52.6,-11.2,48.4,0,27.9C11.2,7.4,20.2,-21.8,20.2,-37.2Z","M14.1,-41.7C14.1,-48.4,7.8,-35.2,0,-12.2C-7.8,10.8,-14.1,35,-14.1,41.7C-14.1,48.4,-7.8,35.2,0,12.2C7.8,-10.8,14.1,-35,14.1,-41.7Z","M7.6,0C7.6,-13.9,4.2,-25.3,0,-25.3C-4.2,-25.3,-7.6,-13.9,-7.6,0C-7.6,13.9,-4.2,25.3,0,25.3C4.2,25.3,7.6,13.9,7.6,0Z","M20.2,-23.4C20.2,-53.1,11.2,-66.6,0,-53.7C-11.2,-40.8,-20.2,-6.3,-20.2,23.4C-20.2,53.1,-11.2,66.6,0,53.7C11.2,40.8,20.2,6.3,20.2,-23.4Z","M-20.2,-23.4C-20.2,-53.1,-11.2,-66.6,0,-53.7C11.2,-40.8,20.2,-6.3,20.2,23.4C20.2,53.1,11.2,66.6,0,53.7C-11.2,40.8,-20.2,6.3,-20.2,-23.4Z","M14.1,0C14.1,-21.8,7.8,-39.4,0,-39.4C-7.8,-39.4,-14.1,-21.8,-14.1,0C-14.1,21.8,-7.8,39.4,0,39.4C7.8,39.4,14.1,21.8,14.1,0Z"]},"legend":null},
"size":{"field":"r","type":"quantitative","scale":{"type":"pow","exponent":2,"domain":[0,1],"range":[0,4]},"legend":null},
"color":{"field":"lv","type":"quantitative","scale":{"domain":[0,0.125,0.375,0.625,0.875,1],"range":["#00008f","#0000ff","#00ffff","#ffff00","#ff0000","#800000"],"interpolate":"rgb"},"legend":null}}},
{"data":{"name":"zero"},"mark":{"type":"rule","color":"black","strokeWidth":1,"strokeDash":[6,4]},"encoding":{"x":{"field":"v","type":"quantitative","scale":{"domain":[-1.1,1.1],"nice":false,"zero":false},"axis":{"orient":"bottom","values":[-1,-0.5,0,0.5,1],"format":"~g","title":"x","labelPadding":9.5,"titlePadding":0.5,"titleFontSize":16}}}},
{"data":{"name":"zero"},"mark":{"type":"rule","color":"black","strokeWidth":1,"strokeDash":[6,4]},"encoding":{"y":{"field":"v","type":"quantitative","scale":{"domain":[-1.3,0.9],"nice":false,"zero":false},"axis":{"orient":"left","values":[-1,-0.5,0,0.5],"format":"~g","title":"y","labelPadding":8,"titlePadding":4}}}},
{"data":{"name":"labels"},"transform":[{"filter":"datum.p=='C'"}],"mark":{"type":"text","align":"left","baseline":"middle","fontSize":11,"fontWeight":"bold","font":"Liberation Sans","color":"black"},"encoding":{"x":{"field":"x","type":"quantitative","scale":{"domain":[-1.1,1.1],"nice":false,"zero":false},"axis":{"orient":"top","values":[-1,-0.5,0,0.5,1],"labels":false,"title":null}},"y":{"field":"y","type":"quantitative","scale":{"domain":[-1.3,0.9],"nice":false,"zero":false},"axis":{"orient":"right","values":[-1,-0.5,0,0.5],"labels":false,"title":null}},"text":{"field":"pre","type":"nominal"}}},
{"data":{"name":"labels"},"transform":[{"filter":"datum.p=='C' && datum.pre=='PCC'"}],"mark":{"type":"text","align":"left","baseline":"middle","fontSize":8,"fontWeight":"bold","font":"Liberation Sans","color":"black","dx":23.6,"dy":4.5},"encoding":{"x":{"field":"x","type":"quantitative","scale":{"domain":[-1.1,1.1],"nice":false,"zero":false},"axis":null},"y":{"field":"y","type":"quantitative","scale":{"domain":[-1.3,0.9],"nice":false,"zero":false},"axis":null},"text":{"field":"sub","type":"nominal"}}},
{"data":{"name":"labels"},"transform":[{"filter":"datum.p=='C' && datum.pre=='PCC'"}],"mark":{"type":"text","align":"left","baseline":"middle","fontSize":11,"fontWeight":"bold","font":"Liberation Sans","color":"black","dx":28.8},"encoding":{"x":{"field":"x","type":"quantitative","scale":{"domain":[-1.1,1.1],"nice":false,"zero":false},"axis":null},"y":{"field":"y","type":"quantitative","scale":{"domain":[-1.3,0.9],"nice":false,"zero":false},"axis":null},"text":{"field":"post","type":"nominal"}}},
{"data":{"name":"labels"},"transform":[{"filter":"datum.p=='C' && datum.pre=='m'"}],"mark":{"type":"text","align":"left","baseline":"middle","fontSize":8,"fontWeight":"bold","font":"Liberation Sans","color":"black","dx":10.2,"dy":4.5},"encoding":{"x":{"field":"x","type":"quantitative","scale":{"domain":[-1.1,1.1],"nice":false,"zero":false},"axis":null},"y":{"field":"y","type":"quantitative","scale":{"domain":[-1.3,0.9],"nice":false,"zero":false},"axis":null},"text":{"field":"sub","type":"nominal"}}},
{"data":{"name":"labels"},"transform":[{"filter":"datum.p=='C' && datum.pre=='m' && length(datum.sub)==2"}],"mark":{"type":"text","align":"left","baseline":"middle","fontSize":11,"fontWeight":"bold","font":"Liberation Sans","color":"black","dx":20.2},"encoding":{"x":{"field":"x","type":"quantitative","scale":{"domain":[-1.1,1.1],"nice":false,"zero":false},"axis":null},"y":{"field":"y","type":"quantitative","scale":{"domain":[-1.3,0.9],"nice":false,"zero":false},"axis":null},"text":{"field":"post","type":"nominal"}}},
{"data":{"name":"labels"},"transform":[{"filter":"datum.p=='C' && datum.pre=='m' && length(datum.sub)==1"}],"mark":{"type":"text","align":"left","baseline":"middle","fontSize":11,"fontWeight":"bold","font":"Liberation Sans","color":"black","dx":15.4},"encoding":{"x":{"field":"x","type":"quantitative","scale":{"domain":[-1.1,1.1],"nice":false,"zero":false},"axis":null},"y":{"field":"y","type":"quantitative","scale":{"domain":[-1.3,0.9],"nice":false,"zero":false},"axis":null},"text":{"field":"post","type":"nominal"}}}
],
"resolve":{"axis":{"x":"independent","y":"independent"}}},
{"width":222,"height":222,"title":"D",
"layer":[
{"data":{"name":"contours"},"transform":[{"filter":"datum.p=='D' && datum.k=='c'"}],"mark":{"type":"point","filled":false,"opacity":1,"strokeWidth":0.8},
"encoding":{"x":{"field":"mx","type":"quantitative","scale":{"domain":[-1.1,1.1],"nice":false,"zero":false},"axis":null},"y":{"field":"my","type":"quantitative","scale":{"domain":[-1.3,0.9],"nice":false,"zero":false},"axis":null},
"shape":{"field":"s","type":"nominal","scale":{"domain":["S1","S2","S3","S4","S5","S6","S7","S8","S9"],"range":["M23.2,-51.7C23.2,-73.1,12.8,-67.4,0,-38.8C-12.8,-10.2,-23.2,30.3,-23.2,51.7C-23.2,73.1,-12.8,67.4,0,38.8C12.8,10.2,23.2,-30.3,23.2,-51.7Z","M-23.2,-51.7C-23.2,-73.1,-12.8,-67.4,0,-38.8C12.8,-10.2,23.2,30.3,23.2,51.7C23.2,73.1,12.8,67.4,0,38.8C-12.8,10.2,-23.2,-30.3,-23.2,-51.7Z","M19.7,-55.4C19.7,-61.6,10.9,-41.9,0,-11.3C-10.9,19.3,-19.7,49.2,-19.7,55.4C-19.7,61.6,-10.9,41.9,0,11.3C10.9,-19.3,19.7,-49.2,19.7,-55.4Z","M20.2,-37.2C20.2,-52.6,11.2,-48.4,0,-27.9C-11.2,-7.4,-20.2,21.8,-20.2,37.2C-20.2,52.6,-11.2,48.4,0,27.9C11.2,7.4,20.2,-21.8,20.2,-37.2Z","M14.1,-41.7C14.1,-48.4,7.8,-35.2,0,-12.2C-7.8,10.8,-14.1,35,-14.1,41.7C-14.1,48.4,-7.8,35.2,0,12.2C7.8,-10.8,14.1,-35,14.1,-41.7Z","M7.6,0C7.6,-13.9,4.2,-25.3,0,-25.3C-4.2,-25.3,-7.6,-13.9,-7.6,0C-7.6,13.9,-4.2,25.3,0,25.3C4.2,25.3,7.6,13.9,7.6,0Z","M20.2,-23.4C20.2,-53.1,11.2,-66.6,0,-53.7C-11.2,-40.8,-20.2,-6.3,-20.2,23.4C-20.2,53.1,-11.2,66.6,0,53.7C11.2,40.8,20.2,6.3,20.2,-23.4Z","M-20.2,-23.4C-20.2,-53.1,-11.2,-66.6,0,-53.7C11.2,-40.8,20.2,-6.3,20.2,23.4C20.2,53.1,11.2,66.6,0,53.7C-11.2,40.8,-20.2,6.3,-20.2,-23.4Z","M14.1,0C14.1,-21.8,7.8,-39.4,0,-39.4C-7.8,-39.4,-14.1,-21.8,-14.1,0C-14.1,21.8,-7.8,39.4,0,39.4C7.8,39.4,14.1,21.8,14.1,0Z"]},"legend":null},
"size":{"field":"r","type":"quantitative","scale":{"type":"pow","exponent":2,"domain":[0,1],"range":[0,4]},"legend":null},
"color":{"field":"lv","type":"quantitative","scale":{"domain":[0,0.125,0.375,0.625,0.875,1],"range":["#00008f","#0000ff","#00ffff","#ffff00","#ff0000","#800000"],"interpolate":"rgb"},"legend":null}}},
{"data":{"name":"contours"},"transform":[{"filter":"datum.p=='D' && datum.k=='o'"}],"mark":{"type":"point","filled":false,"opacity":1,"strokeWidth":3},
"encoding":{"x":{"field":"mx","type":"quantitative","scale":{"domain":[-1.1,1.1],"nice":false,"zero":false},"axis":null},"y":{"field":"my","type":"quantitative","scale":{"domain":[-1.3,0.9],"nice":false,"zero":false},"axis":null},
"shape":{"field":"s","type":"nominal","scale":{"domain":["S1","S2","S3","S4","S5","S6","S7","S8","S9"],"range":["M23.2,-51.7C23.2,-73.1,12.8,-67.4,0,-38.8C-12.8,-10.2,-23.2,30.3,-23.2,51.7C-23.2,73.1,-12.8,67.4,0,38.8C12.8,10.2,23.2,-30.3,23.2,-51.7Z","M-23.2,-51.7C-23.2,-73.1,-12.8,-67.4,0,-38.8C12.8,-10.2,23.2,30.3,23.2,51.7C23.2,73.1,12.8,67.4,0,38.8C-12.8,10.2,-23.2,-30.3,-23.2,-51.7Z","M19.7,-55.4C19.7,-61.6,10.9,-41.9,0,-11.3C-10.9,19.3,-19.7,49.2,-19.7,55.4C-19.7,61.6,-10.9,41.9,0,11.3C10.9,-19.3,19.7,-49.2,19.7,-55.4Z","M20.2,-37.2C20.2,-52.6,11.2,-48.4,0,-27.9C-11.2,-7.4,-20.2,21.8,-20.2,37.2C-20.2,52.6,-11.2,48.4,0,27.9C11.2,7.4,20.2,-21.8,20.2,-37.2Z","M14.1,-41.7C14.1,-48.4,7.8,-35.2,0,-12.2C-7.8,10.8,-14.1,35,-14.1,41.7C-14.1,48.4,-7.8,35.2,0,12.2C7.8,-10.8,14.1,-35,14.1,-41.7Z","M7.6,0C7.6,-13.9,4.2,-25.3,0,-25.3C-4.2,-25.3,-7.6,-13.9,-7.6,0C-7.6,13.9,-4.2,25.3,0,25.3C4.2,25.3,7.6,13.9,7.6,0Z","M20.2,-23.4C20.2,-53.1,11.2,-66.6,0,-53.7C-11.2,-40.8,-20.2,-6.3,-20.2,23.4C-20.2,53.1,-11.2,66.6,0,53.7C11.2,40.8,20.2,6.3,20.2,-23.4Z","M-20.2,-23.4C-20.2,-53.1,-11.2,-66.6,0,-53.7C11.2,-40.8,20.2,-6.3,20.2,23.4C20.2,53.1,11.2,66.6,0,53.7C-11.2,40.8,-20.2,6.3,-20.2,-23.4Z","M14.1,0C14.1,-21.8,7.8,-39.4,0,-39.4C-7.8,-39.4,-14.1,-21.8,-14.1,0C-14.1,21.8,-7.8,39.4,0,39.4C7.8,39.4,14.1,21.8,14.1,0Z"]},"legend":null},
"size":{"field":"r","type":"quantitative","scale":{"type":"pow","exponent":2,"domain":[0,1],"range":[0,4]},"legend":null},
"color":{"field":"lv","type":"quantitative","scale":{"domain":[0,0.125,0.375,0.625,0.875,1],"range":["#00008f","#0000ff","#00ffff","#ffff00","#ff0000","#800000"],"interpolate":"rgb"},"legend":null}}},
{"data":{"name":"contours"},"transform":[{"filter":"datum.p=='D' && datum.k=='i'"}],"mark":{"type":"point","filled":false,"opacity":1,"strokeWidth":2},
"encoding":{"x":{"field":"mx","type":"quantitative","scale":{"domain":[-1.1,1.1],"nice":false,"zero":false},"axis":null},"y":{"field":"my","type":"quantitative","scale":{"domain":[-1.3,0.9],"nice":false,"zero":false},"axis":null},
"shape":{"field":"s","type":"nominal","scale":{"domain":["S1","S2","S3","S4","S5","S6","S7","S8","S9"],"range":["M23.2,-51.7C23.2,-73.1,12.8,-67.4,0,-38.8C-12.8,-10.2,-23.2,30.3,-23.2,51.7C-23.2,73.1,-12.8,67.4,0,38.8C12.8,10.2,23.2,-30.3,23.2,-51.7Z","M-23.2,-51.7C-23.2,-73.1,-12.8,-67.4,0,-38.8C12.8,-10.2,23.2,30.3,23.2,51.7C23.2,73.1,12.8,67.4,0,38.8C-12.8,10.2,-23.2,-30.3,-23.2,-51.7Z","M19.7,-55.4C19.7,-61.6,10.9,-41.9,0,-11.3C-10.9,19.3,-19.7,49.2,-19.7,55.4C-19.7,61.6,-10.9,41.9,0,11.3C10.9,-19.3,19.7,-49.2,19.7,-55.4Z","M20.2,-37.2C20.2,-52.6,11.2,-48.4,0,-27.9C-11.2,-7.4,-20.2,21.8,-20.2,37.2C-20.2,52.6,-11.2,48.4,0,27.9C11.2,7.4,20.2,-21.8,20.2,-37.2Z","M14.1,-41.7C14.1,-48.4,7.8,-35.2,0,-12.2C-7.8,10.8,-14.1,35,-14.1,41.7C-14.1,48.4,-7.8,35.2,0,12.2C7.8,-10.8,14.1,-35,14.1,-41.7Z","M7.6,0C7.6,-13.9,4.2,-25.3,0,-25.3C-4.2,-25.3,-7.6,-13.9,-7.6,0C-7.6,13.9,-4.2,25.3,0,25.3C4.2,25.3,7.6,13.9,7.6,0Z","M20.2,-23.4C20.2,-53.1,11.2,-66.6,0,-53.7C-11.2,-40.8,-20.2,-6.3,-20.2,23.4C-20.2,53.1,-11.2,66.6,0,53.7C11.2,40.8,20.2,6.3,20.2,-23.4Z","M-20.2,-23.4C-20.2,-53.1,-11.2,-66.6,0,-53.7C11.2,-40.8,20.2,-6.3,20.2,23.4C20.2,53.1,11.2,66.6,0,53.7C-11.2,40.8,-20.2,6.3,-20.2,-23.4Z","M14.1,0C14.1,-21.8,7.8,-39.4,0,-39.4C-7.8,-39.4,-14.1,-21.8,-14.1,0C-14.1,21.8,-7.8,39.4,0,39.4C7.8,39.4,14.1,21.8,14.1,0Z"]},"legend":null},
"size":{"field":"r","type":"quantitative","scale":{"type":"pow","exponent":2,"domain":[0,1],"range":[0,4]},"legend":null},
"color":{"field":"lv","type":"quantitative","scale":{"domain":[0,0.125,0.375,0.625,0.875,1],"range":["#00008f","#0000ff","#00ffff","#ffff00","#ff0000","#800000"],"interpolate":"rgb"},"legend":null}}},
{"data":{"name":"zero"},"mark":{"type":"rule","color":"black","strokeWidth":1,"strokeDash":[6,4]},"encoding":{"x":{"field":"v","type":"quantitative","scale":{"domain":[-1.1,1.1],"nice":false,"zero":false},"axis":{"orient":"bottom","values":[-1,-0.5,0,0.5,1],"format":"~g","title":"x","labelPadding":9.5,"titlePadding":0.5,"titleFontSize":16}}}},
{"data":{"name":"zero"},"mark":{"type":"rule","color":"black","strokeWidth":1,"strokeDash":[6,4]},"encoding":{"y":{"field":"v","type":"quantitative","scale":{"domain":[-1.3,0.9],"nice":false,"zero":false},"axis":{"orient":"left","values":[-1,-0.5,0,0.5],"labels":false,"title":null}}}},
{"data":{"name":"labels"},"transform":[{"filter":"datum.p=='D'"}],"mark":{"type":"text","align":"left","baseline":"middle","fontSize":11,"fontWeight":"bold","font":"Liberation Sans","color":"black"},"encoding":{"x":{"field":"x","type":"quantitative","scale":{"domain":[-1.1,1.1],"nice":false,"zero":false},"axis":{"orient":"top","values":[-1,-0.5,0,0.5,1],"labels":false,"title":null}},"y":{"field":"y","type":"quantitative","scale":{"domain":[-1.3,0.9],"nice":false,"zero":false},"axis":{"orient":"right","values":[-1,-0.5,0,0.5],"labels":false,"title":null}},"text":{"field":"pre","type":"nominal"}}},
{"data":{"name":"labels"},"transform":[{"filter":"datum.p=='D' && datum.pre=='PCC'"}],"mark":{"type":"text","align":"left","baseline":"middle","fontSize":8,"fontWeight":"bold","font":"Liberation Sans","color":"black","dx":23.6,"dy":4.5},"encoding":{"x":{"field":"x","type":"quantitative","scale":{"domain":[-1.1,1.1],"nice":false,"zero":false},"axis":null},"y":{"field":"y","type":"quantitative","scale":{"domain":[-1.3,0.9],"nice":false,"zero":false},"axis":null},"text":{"field":"sub","type":"nominal"}}},
{"data":{"name":"labels"},"transform":[{"filter":"datum.p=='D' && datum.pre=='PCC'"}],"mark":{"type":"text","align":"left","baseline":"middle","fontSize":11,"fontWeight":"bold","font":"Liberation Sans","color":"black","dx":28.8},"encoding":{"x":{"field":"x","type":"quantitative","scale":{"domain":[-1.1,1.1],"nice":false,"zero":false},"axis":null},"y":{"field":"y","type":"quantitative","scale":{"domain":[-1.3,0.9],"nice":false,"zero":false},"axis":null},"text":{"field":"post","type":"nominal"}}},
{"data":{"name":"labels"},"transform":[{"filter":"datum.p=='D' && datum.pre=='m'"}],"mark":{"type":"text","align":"left","baseline":"middle","fontSize":8,"fontWeight":"bold","font":"Liberation Sans","color":"black","dx":10.2,"dy":4.5},"encoding":{"x":{"field":"x","type":"quantitative","scale":{"domain":[-1.1,1.1],"nice":false,"zero":false},"axis":null},"y":{"field":"y","type":"quantitative","scale":{"domain":[-1.3,0.9],"nice":false,"zero":false},"axis":null},"text":{"field":"sub","type":"nominal"}}},
{"data":{"name":"labels"},"transform":[{"filter":"datum.p=='D' && datum.pre=='m' && length(datum.sub)==2"}],"mark":{"type":"text","align":"left","baseline":"middle","fontSize":11,"fontWeight":"bold","font":"Liberation Sans","color":"black","dx":20.2},"encoding":{"x":{"field":"x","type":"quantitative","scale":{"domain":[-1.1,1.1],"nice":false,"zero":false},"axis":null},"y":{"field":"y","type":"quantitative","scale":{"domain":[-1.3,0.9],"nice":false,"zero":false},"axis":null},"text":{"field":"post","type":"nominal"}}},
{"data":{"name":"labels"},"transform":[{"filter":"datum.p=='D' && datum.pre=='m' && length(datum.sub)==1"}],"mark":{"type":"text","align":"left","baseline":"middle","fontSize":11,"fontWeight":"bold","font":"Liberation Sans","color":"black","dx":15.4},"encoding":{"x":{"field":"x","type":"quantitative","scale":{"domain":[-1.1,1.1],"nice":false,"zero":false},"axis":null},"y":{"field":"y","type":"quantitative","scale":{"domain":[-1.3,0.9],"nice":false,"zero":false},"axis":null},"text":{"field":"post","type":"nominal"}}}
],
"resolve":{"axis":{"x":"independent","y":"independent"}}}
],
"config":{
"view":{"stroke":"black","strokeWidth":1.8},
"axis":{"domain":false,"grid":false,"tickColor":"black","tickSize":-4,"tickWidth":1,"labelFont":"Liberation Sans","labelFontSize":15,"labelFontWeight":"bold","labelColor":"black","titleFont":"Liberation Sans","titleFontSize":17,"titleFontWeight":"bold","titleColor":"black"},
"title":{"font":"Liberation Sans","fontSize":21,"fontWeight":"bold","anchor":"start","frame":"group","dx":-26,"offset":-1,"baseline":"alphabetic","color":"black"}
}
}
